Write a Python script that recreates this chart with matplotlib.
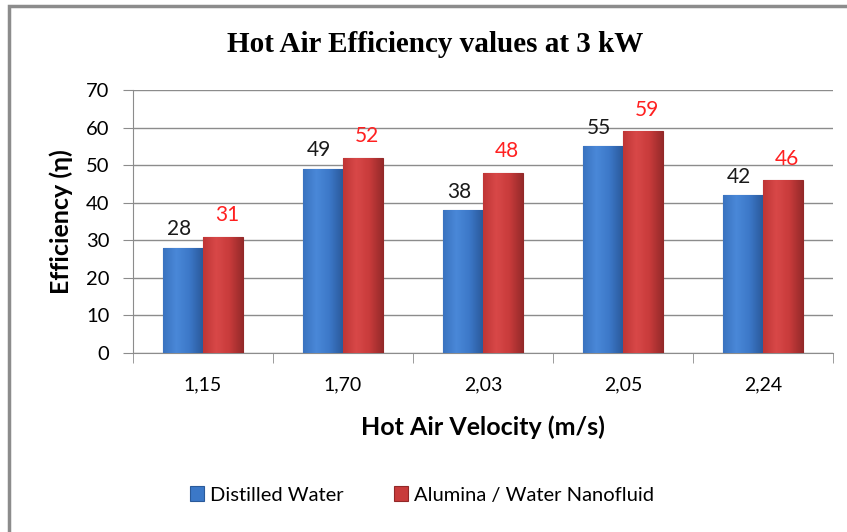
import matplotlib.pyplot as plt
import numpy as np
from matplotlib.patches import Rectangle
from matplotlib.colors import LinearSegmentedColormap

# chart data
velocities = ['1,15', '1,70', '2,03', '2,05', '2,24']
distilled_water = [28, 49, 38, 55, 42]
nanofluid = [31, 52, 48, 59, 46]

plt.rcParams['font.family'] = ['Lato', 'DejaVu Sans']

fig = plt.figure(figsize=(8.47, 5.32), dpi=100)
W, H = 847, 532

# outer chart border (only top and left visible in the picture)
fig.patches.append(Rectangle((9 / W, -0.1), 1.2, (532 - 6) / H + 0.1, transform=fig.transFigure,
                             fill=False, edgecolor='#8c8c8c', linewidth=2.5))

ax = fig.add_axes([133 / W, 1 - 353 / H, 700 / W, 263 / H])

x = np.arange(len(velocities))
w = 0.285
b1 = ax.bar(x - w / 2, distilled_water, w, color='#3b78c8', edgecolor='#2a5a9a', linewidth=0.8,
            label='Distilled Water', zorder=3)
b2 = ax.bar(x + w / 2, nanofluid, w, color='#c83b3b', edgecolor='#922828', linewidth=0.8,
            label='Alumina / Water Nanofluid', zorder=3)

# shaded fill, a bit like the bevelled bars of the original
blue_cm = LinearSegmentedColormap.from_list('b', ['#3a73c0', '#4a88d8', '#3c78c8', '#2b5a9c'])
red_cm = LinearSegmentedColormap.from_list('r', ['#c03636', '#d84848', '#c83b3b', '#962a2a'])
grad = np.linspace(0, 1, 64).reshape(1, -1)
for bars, cm in [(b1, blue_cm), (b2, red_cm)]:
    for bar in bars:
        bx, by = bar.get_x(), bar.get_y()
        bw, bh = bar.get_width(), bar.get_height()
        im = ax.imshow(grad, cmap=cm, aspect='auto', extent=(bx, bx + bw, by, by + bh), zorder=3.5)
        im.set_clip_path(bar)

for xi, v in zip(x, distilled_water):
    ax.text(xi - w / 2 - 0.03, v + 2.3, str(v), ha='center', va='bottom', fontsize=15, color='#1a1a1a')
for xi, v in zip(x, nanofluid):
    ax.text(xi + w / 2 + 0.03, v + 3.0, str(v), ha='center', va='bottom', fontsize=15, color='#ff2020')

ax.set_xlim(-0.5, len(velocities) - 0.5)
ax.set_ylim(0, 70)
ax.set_yticks(range(0, 71, 10))
ax.yaxis.grid(True, color='#8c8c8c', linewidth=1, zorder=0)
ax.set_xticks(x)
ax.set_xticklabels(velocities)
ax.set_xticks(np.arange(-0.5, len(velocities), 1), minor=True)
ax.tick_params(axis='x', which='major', length=0, pad=17, labelsize=14)
ax.tick_params(axis='x', which='minor', length=7, color='#8c8c8c', direction='out')
ax.tick_params(axis='y', length=7, color='#8c8c8c', labelsize=14.5, pad=10)

for s in ['top', 'right']:
    ax.spines[s].set_visible(False)
ax.spines['left'].set_color('#8c8c8c')
ax.spines['bottom'].set_color('#8c8c8c')

ax.set_xlabel('Hot Air Velocity (m/s)', fontsize=18, fontweight='bold', labelpad=16)
ax.set_ylabel('Efficiency (η)', fontsize=18, fontweight='bold', va='center')
ax.yaxis.set_label_coords((61 - 133) / 700, 0.5)

fig.text(435 / W, 1 - 45 / H, 'Hot Air Efficiency values at 3 kW', ha='center', va='center',
         fontsize=21, fontweight='bold', family='Liberation Serif')

fig.legend(handles=[b1, b2], loc='center', bbox_to_anchor=(0.498, 1 - 495 / H), ncol=2, frameon=False,
           fontsize=14.5, handlelength=0.7, handleheight=0.7, handletextpad=0.3, columnspacing=2.5)

fig.savefig('out.png', dpi=100)
